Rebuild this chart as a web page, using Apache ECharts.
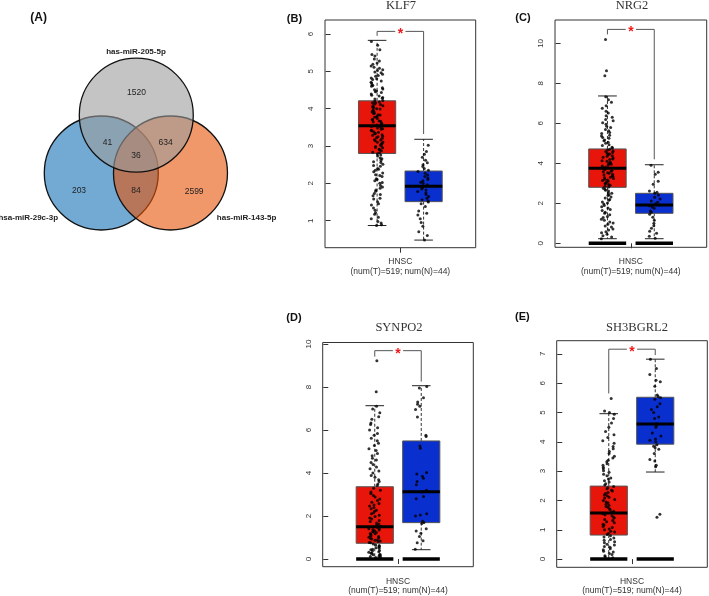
<!DOCTYPE html>
<html><head><meta charset="utf-8">
<script src="https://cdn.jsdelivr.net/npm/echarts@6/dist/echarts.min.js"></script>
<style>html,body{margin:0;padding:0;background:#fff}#c{width:709px;height:596px}</style>
</head><body><div id="c"></div>
<script>
// ================= DATA =================
const vennSetNames = ['has-miR-205-5p', 'hsa-miR-29c-3p', 'has-miR-143-5p'];
// regions: only205, 205&29c, 205&143, all, only29c, 29c&143, only143
const vennRegionCounts = [1520, 41, 634, 36, 203, 84, 2599];

const genes = ['KLF7', 'NRG2', 'SYNPO2', 'SH3BGRL2'];
const panelTags = ['(B)', '(C)', '(D)', '(E)'];
const cancerType = 'HNSC';
const sampleSizes = '(num(T)=519; num(N)=44)';

// [lower whisker, Q1, median, Q3, upper whisker]
const tumorBox = [
  [0.87, 2.80, 3.54, 4.21, 5.83],
  [0.23, 2.80, 3.75, 4.72, 7.37],
  [0.00, 0.73, 1.50, 3.36, 7.13],
  [0.00, 0.82, 1.57, 2.49, 4.96]
];
const normalBox = [
  [0.48, 1.51, 1.92, 2.33, 3.18],
  [0.23, 1.50, 1.92, 2.50, 3.93],
  [0.43, 1.69, 3.13, 5.49, 8.06],
  [2.97, 3.92, 4.61, 5.52, 6.82]
];
const hasZeroExpr = [false, true, true, true];

const tumorPoints = [
  [0.87,0.89,0.94,0.98,1.05,1.09,1.17,1.21,1.28,1.34,1.42,1.45,1.51,1.58,1.6,1.67,1.7,1.73,1.79,1.82,1.87,1.9,1.94,2.0,2.02,2.07,2.1,2.12,2.18,2.21,2.23,2.28,2.31,2.35,2.38,2.4,2.46,2.48,2.51,2.56,2.58,2.61,2.66,2.68,2.73,2.76,2.79,
   2.82,2.83,2.87,2.9,2.91,2.95,2.96,2.99,3.0,3.03,3.06,3.07,3.1,3.11,3.14,3.16,3.17,3.21,3.22,3.25,3.26,3.29,3.3,3.33,3.34,3.37,3.38,3.41,3.42,3.45,3.46,3.48,3.5,3.52,
   3.56,3.57,3.6,3.61,3.64,3.66,3.67,3.7,3.71,3.74,3.77,3.78,3.8,3.83,3.84,3.87,3.88,3.91,3.92,3.95,3.96,3.99,4.0,4.03,4.04,4.07,4.08,4.11,4.12,4.15,4.16,4.18,4.2,
   4.22,4.26,4.28,4.3,4.34,4.36,4.39,4.43,4.45,4.47,4.51,4.53,4.56,4.6,4.62,4.64,4.69,4.71,4.74,4.78,4.8,4.82,4.87,4.89,4.92,4.96,4.98,5.02,5.04,5.08,5.11,5.14,5.19,5.22,5.28,5.33,5.41,5.45,5.58,5.7,5.8],
  [0.23,0.31,0.38,0.45,0.53,0.58,0.67,0.72,0.81,0.87,0.95,1.01,1.07,1.15,1.2,1.29,1.34,1.43,1.5,1.55,1.64,1.69,1.77,1.83,1.89,1.97,2.02,2.07,2.15,2.19,2.27,2.31,2.39,2.43,2.5,2.53,2.61,2.65,2.71,2.76,
   2.82,2.85,2.91,2.94,2.99,3.01,3.07,3.1,3.14,3.17,3.21,3.24,3.29,3.31,3.36,3.38,3.43,3.46,3.5,3.53,3.58,3.61,3.65,3.69,3.73,
   3.78,3.81,3.87,3.9,3.95,3.98,4.03,4.06,4.11,4.13,4.19,4.22,4.27,4.3,4.35,4.38,4.43,4.47,4.51,4.54,4.59,4.62,4.67,4.7,
   4.77,4.81,4.89,4.93,5.01,5.05,5.13,5.17,5.25,5.29,5.37,5.41,5.49,5.54,5.63,5.69,5.79,5.85,5.96,6.03,6.13,6.19,6.31,6.38,6.52,6.6,6.76,6.88,7.06,7.18,7.33],
  [0.05,0.07,0.1,0.12,0.15,0.17,0.2,0.22,0.26,0.27,0.31,0.33,0.37,0.39,0.43,0.45,0.5,0.52,0.56,0.59,0.63,0.65,0.7,
   0.75,0.77,0.81,0.83,0.87,0.89,0.93,0.95,0.99,1.01,1.05,1.07,1.11,1.13,1.17,1.19,1.23,1.25,1.29,1.31,1.35,1.37,1.41,1.43,1.47,
   1.52,1.57,1.63,1.67,1.74,1.79,1.86,1.91,1.98,2.03,2.1,2.15,2.22,2.27,2.34,2.39,2.46,2.51,2.58,2.64,2.72,2.79,2.88,2.95,3.04,3.11,3.2,3.29,
   3.42,3.49,3.6,3.68,3.8,3.88,4.0,4.09,4.2,4.28,4.4,4.49,4.6,4.68,4.8,4.91,5.05,5.13,5.28,5.38,5.5,5.61,5.75,5.84,6.0,6.1,6.25,6.33,6.5,6.62,6.8,6.98,7.1],
  [0.05,0.08,0.11,0.16,0.19,0.24,0.27,0.32,0.35,0.4,0.43,0.48,0.51,0.56,0.59,0.64,0.67,0.72,0.75,0.8,
   0.84,0.87,0.92,0.95,1.0,1.03,1.08,1.11,1.16,1.19,1.24,1.27,1.32,1.35,1.4,1.43,1.48,1.51,1.55,
   1.6,1.63,1.68,1.71,1.76,1.79,1.84,1.87,1.92,1.95,2.0,2.03,2.08,2.11,2.16,2.19,2.24,2.27,2.32,2.35,2.4,2.43,2.48,
   2.53,2.57,2.63,2.67,2.73,2.77,2.84,2.89,2.96,3.01,3.08,3.13,3.2,3.25,3.32,3.37,3.45,3.51,3.6,3.67,3.76,3.84,3.95,4.04,4.15,4.24,4.35,4.5,4.64,4.8,4.94,5.0,5.05]
];
const tumorOutliers = [[], [8.38, 8.63, 10.2], [7.78, 9.22], [5.48]];

const normalPoints = [
  [0.48,0.6,0.7,0.85,0.95,1.05,1.15,1.2,1.26,1.38,1.45,1.5,1.53,1.56,1.6,1.65,1.7,1.75,1.78,1.82,1.85,1.88,1.91,1.93,1.96,2.0,2.03,2.07,2.1,2.14,2.18,2.22,2.27,2.32,2.35,2.4,2.45,2.5,2.55,2.62,2.7,2.78,2.85,3.02],
  [0.25,0.35,0.5,0.6,0.75,0.88,1.0,1.15,1.3,1.45,1.55,1.62,1.75,1.82,1.88,1.92,1.98,2.05,2.12,2.22,2.3,2.42,2.5,2.55,2.62,2.95,3.1,3.45,3.55,3.9],
  [0.45,0.75,0.85,1.05,1.2,1.3,1.4,1.65,1.7,1.75,2.0,2.05,2.1,2.8,2.9,3.12,3.2,3.45,3.6,3.75,3.85,3.95,4.02,5.15,5.25,5.7,5.75,6.6,6.95,7.1,7.2,7.3,7.5,7.95,8.02],
  [3.15,3.2,3.35,3.4,3.6,3.75,3.8,3.85,3.9,4.0,4.05,4.1,4.2,4.3,4.5,4.55,4.6,4.62,4.8,4.85,5.0,5.1,5.2,5.3,5.45,5.5,5.55,5.6,5.9,6.05,6.1,6.3,6.5,6.82]
];
const normalOutliers = [[], [], [], [1.43, 1.53]];

const yTickValues = [[1,2,3,4,5,6],[0,2,4,6,8,10],[0,2,4,6,8,10],[0,1,2,3,4,5,6,7]];

// significance bracket: [bracket level, tumor side end, normal side end]
const bracketLevels = [[6.07, 5.95, 3.32], [10.7, 10.45, 4.2], [9.69, 9.41, 8.25], [7.16, 5.65, 6.96]];

// ================= LAYOUT =================
const vennCircles = [[0.005, 1.014], [-0.609, 0], [0.605, 0]]; // unit radius
const vennCircleFill = ['rgba(157,157,157,0.6)', 'rgba(20,113,183,0.6)', 'rgba(230,83,7,0.6)'];
const vennDrawOrder = [1, 2, 0];
const vennRegionPos = [[0.01,1.41],[-0.5,0.54],[0.52,0.54],[0.0,0.3],[-1.0,-0.31],[0.0,-0.31],[1.02,-0.32]];
const vennSetPos = [[0.0,2.12],[-1.89,-0.79],[1.94,-0.79]];

const panelLayout = [
  {left:325, top:20, width:150.7, height:227.7, ymin:0.276, ymax:6.375, lh:10, m:9},
  {left:555, top:20, width:151.7, height:227.3, ymin:-0.2, ymax:11.17, lh:10, m:9},
  {left:322.7, top:342.5, width:150.6, height:224.2, ymin:-0.36, ymax:10.07, lh:9, m:10},
  {left:556.7, top:340.7, width:150.6, height:226.6, ymin:-0.28, ymax:7.45, lh:9, m:10}
];
const titlePos = [[401,6],[632,6],[399,328],[637,328]];
const tagPos = [[294.5,19],[523,18],[294,318],[522.3,317.3]];

const SANS = 'Liberation Sans, Arial, sans-serif';
const SERIF = 'Liberation Serif, Times New Roman, serif';

// deterministic horizontal jitter (position only, not data)
function jitter(i, seed) {
  let h = Math.imul(i + 1 + seed * 131, 2654435761) >>> 0;
  h = (h ^ (h >>> 13)) >>> 0;
  h = Math.imul(h, 1274126177) >>> 0;
  h = (h ^ (h >>> 16)) >>> 0;
  return ((h % 1000) / 999 * 2 - 1) * 0.13;
}

const chart = echarts.init(document.getElementById('c'), null, {renderer: 'canvas'});

const grid = [{left:0, top:0, width:272, height:346, show:false}];
const xAxis = [{gridIndex:0, type:'value', min:-2.386, max:2.386, show:false}];
const yAxis = [{gridIndex:0, type:'value', min:-3.035, max:3.035, show:false}];
const series = [];

// Venn circles
series.push({
  type:'custom', xAxisIndex:0, yAxisIndex:0, clip:false, silent:true,
  data: vennDrawOrder.map(i => [vennCircles[i][0], vennCircles[i][1], 1, i]),
  renderItem(params, api) {
    const c = api.coord([api.value(0), api.value(1)]);
    const r = api.size([api.value(2), 0])[0];
    const idx = api.value(3);
    return {type:'circle', z2: params.dataIndex, shape:{cx:c[0], cy:c[1], r},
      style:{fill: vennCircleFill[idx], stroke:'#111', lineWidth:1.3}};
  }
});
// Venn texts
series.push({
  type:'custom', xAxisIndex:0, yAxisIndex:0, clip:false, silent:true, z:5,
  data: vennRegionCounts.map((v, i) => [vennRegionPos[i][0], vennRegionPos[i][1], v]),
  renderItem(params, api) {
    const c = api.coord([api.value(0), api.value(1)]);
    return {type:'text', x:c[0], y:c[1], style:{text: String(vennRegionCounts[params.dataIndex]),
      fill:'#222', font:'8.5px ' + SANS, align:'center', verticalAlign:'middle'}};
  }
});
series.push({
  type:'custom', xAxisIndex:0, yAxisIndex:0, clip:false, silent:true, z:5,
  data: vennSetNames.map((n, i) => [vennSetPos[i][0], vennSetPos[i][1]]),
  renderItem(params, api) {
    const c = api.coord([api.value(0), api.value(1)]);
    return {type:'text', x:c[0], y:c[1], style:{text: vennSetNames[params.dataIndex],
      fill:'#222', font:'bold 8px ' + SANS, align:'center', verticalAlign:'middle'}};
  }
});

const graphic = [
  {type:'text', x:38.7, y:18, style:{text:'(A)', font:'bold 12px ' + SANS, fill:'#111', align:'center', verticalAlign:'middle'}}
];

panelLayout.forEach((L, p) => {
  const gi = p + 1;
  grid.push({left:L.left, top:L.top, width:L.width, height:L.height, show:true, borderColor:'#333', borderWidth:1, backgroundColor:'transparent'});
  xAxis.push({gridIndex:gi, type:'value', min:-0.12, max:3.12,
    axisLine:{show:false}, splitLine:{show:false},
    axisTick:{show:true, customValues:[1.5], length:5, lineStyle:{color:'#333'}},
    axisLabel:{show:true, customValues:[1.5], formatter: () => cancerType + '\n' + sampleSizes,
      margin:L.m, fontSize:8.5, lineHeight:L.lh, color:'#333', fontFamily:SANS}});
  yAxis.push({gridIndex:gi, type:'value', min:L.ymin, max:L.ymax,
    axisLine:{show:false}, splitLine:{show:false},
    axisTick:{show:true, customValues:yTickValues[p], length:5, lineStyle:{color:'#333'}},
    axisLabel:{show:true, customValues:yTickValues[p], rotate:90, margin:10, fontSize:8, color:'#333', fontFamily:SANS}});

  // boxes
  series.push({
    type:'custom', xAxisIndex:gi, yAxisIndex:gi, clip:false, silent:true, z:2,
    data: [[1].concat(tumorBox[p]), [2].concat(normalBox[p])],
    renderItem(params, api) {
      const g = api.value(0);
      const lo = api.value(1), q1 = api.value(2), med = api.value(3), q3 = api.value(4), hi = api.value(5);
      const hw = 0.4, cw = 0.2;
      const pt = (x, y) => api.coord([x, y]);
      const ln = (a, b, st) => ({type:'line', shape:{x1:a[0], y1:a[1], x2:b[0], y2:b[1]}, style:Object.assign({stroke:'#222', lineWidth:1}, st || {})});
      const fill = g === 1 ? '#e8150b' : '#0a2fcf';
      const ch = [];
      ch.push(ln(pt(g, q3), pt(g, hi), {lineDash:[3, 2], stroke:'#333'}));
      ch.push(ln(pt(g, q1), pt(g, lo), {lineDash:[3, 2], stroke:'#333'}));
      ch.push(ln(pt(g - cw, hi), pt(g + cw, hi)));
      ch.push(ln(pt(g - cw, lo), pt(g + cw, lo)));
      const a = pt(g - hw, q3), b = pt(g + hw, q1);
      ch.push({type:'rect', shape:{x:a[0], y:a[1], width:b[0] - a[0], height:b[1] - a[1]}, style:{fill, stroke:'#555', lineWidth:1}});
      ch.push(ln(pt(g - hw, med), pt(g + hw, med), {stroke:'#000', lineWidth:3}));
      if (hasZeroExpr[p]) ch.push(ln(pt(g - hw, 0), pt(g + hw, 0), {stroke:'#000', lineWidth:3.5}));
      return {type:'group', children:ch};
    }
  });

  // jittered points
  const pts = [];
  tumorPoints[p].forEach((v, i) => pts.push([1 + jitter(i, p), v]));
  tumorOutliers[p].forEach((v, i) => pts.push([1 + jitter(i, 50 + p) * 0.5, v]));
  normalPoints[p].forEach((v, i) => pts.push([2 + jitter(i, 20 + p), v]));
  normalOutliers[p].forEach((v, i) => pts.push([2 + jitter(i, 70 + p), v]));
  series.push({type:'scatter', xAxisIndex:gi, yAxisIndex:gi, data:pts, symbol:'circle', symbolSize:3,
    itemStyle:{color:'#000'}, silent:true, z:3, clip:false});

  // bracket and star
  series.push({
    type:'custom', xAxisIndex:gi, yAxisIndex:gi, clip:false, silent:true, z:4,
    data:[bracketLevels[p]],
    renderItem(params, api) {
      const by = api.value(0), te = api.value(1), ne = api.value(2);
      const pt = (x, y) => api.coord([x, y]);
      const ln = (a, b) => ({type:'line', shape:{x1:a[0], y1:a[1], x2:b[0], y2:b[1]}, style:{stroke:'#555', lineWidth:1}});
      const c = pt(1.5, by);
      return {type:'group', children:[
        ln(pt(1, te), pt(1, by)), ln(pt(1, by), pt(1.39, by)),
        ln(pt(1.61, by), pt(2, by)), ln(pt(2, by), pt(2, ne)),
        {type:'text', x:c[0], y:c[1] + 3, style:{text:'*', fill:'#f01818', font:'bold 14px ' + SANS, align:'center', verticalAlign:'middle'}}
      ]};
    }
  });

  graphic.push({type:'text', x:titlePos[p][0], y:titlePos[p][1], style:{text:genes[p], font:'12.5px ' + SERIF, fill:'#333', align:'center', verticalAlign:'middle'}});
  graphic.push({type:'text', x:tagPos[p][0], y:tagPos[p][1], style:{text:panelTags[p], font:'bold 11px ' + SANS, fill:'#111', align:'center', verticalAlign:'middle'}});
});

chart.setOption({animation:false, backgroundColor:'#fff', grid, xAxis, yAxis, series, graphic});
</script></body></html>
